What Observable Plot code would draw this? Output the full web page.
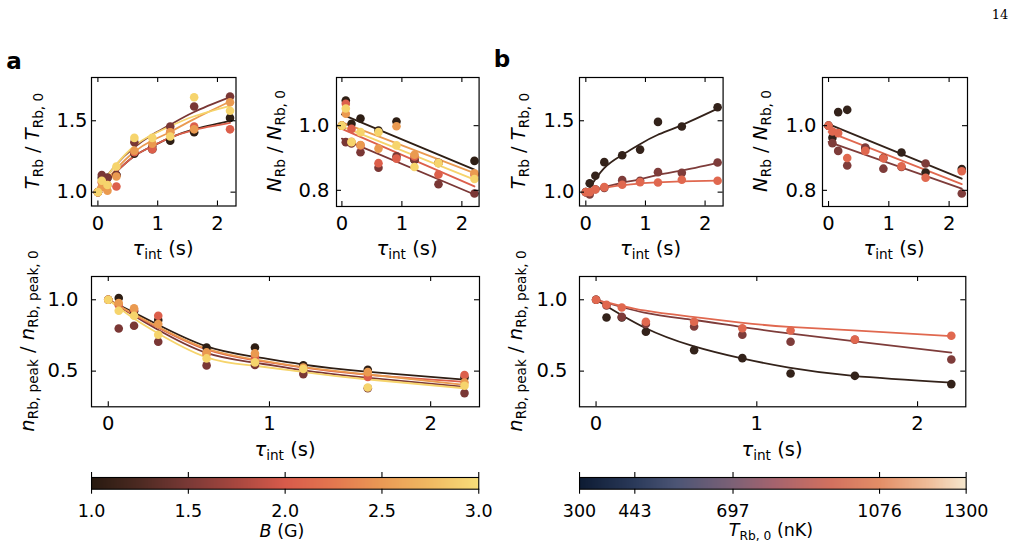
<!DOCTYPE html>
<html><head><meta charset="utf-8">
<script src="https://cdn.jsdelivr.net/npm/d3@7"></script>
<script src="https://cdn.jsdelivr.net/npm/@observablehq/plot@0.6"></script>
<style>
body{margin:0;background:#fff;}
#fig{position:relative;width:1012px;height:556px;font-family:"DejaVu Sans",sans-serif;color:#000;overflow:hidden;background:#fff;}
.pl{position:absolute;}
.pl svg{display:block;overflow:visible;}
.lab{position:absolute;white-space:nowrap;font-size:19.5px;line-height:1;transform:translate(-50%,-50%);}
.lab.rot{transform:translate(-50%,-50%) rotate(-90deg);}
.lab sub{font-size:0.7em;vertical-align:-0.3em;line-height:0;}
.lab i{font-style:oblique;}
</style></head><body><div id="fig"></div><script>
// ---------------- data ----------------
const tau = [0, 0.065, 0.16, 0.31, 0.61, 0.91, 1.21, 1.61, 2.21];
const fieldNames = ["1.0 G", "1.5 G", "2.0 G", "2.5 G", "3.0 G"];
const tempNames = ["443 nK", "697 nK", "1076 nK"];

// panel a: T_Rb / T_Rb,0
const aT_B10 = [1.0, 1.10, 1.10, 1.12, 1.27, 1.30, 1.36, 1.42, 1.52];
const aT_B15 = [1.0, 1.12, 1.10, 1.12, 1.35, 1.32, 1.46, 1.60, 1.67];
const aT_B20 = [1.0, 1.07, 1.05, 1.04, 1.28, 1.30, 1.42, 1.46, 1.44];
const aT_B25 = [1.0, 1.035, 1.01, 1.11, 1.29, 1.34, 1.42, 1.44, 1.63];
const aT_B30 = [1.0, 1.08, 1.05, 1.18, 1.38, 1.38, 1.39, 1.665, 1.57];
const aT_fitTau = [0, 0.3, 0.6, 0.9, 1.2, 1.6, 2.21];
const aT_fit_B10 = [1.02, 1.14, 1.25, 1.32, 1.38, 1.44, 1.50];
const aT_fit_B15 = [1.03, 1.19, 1.31, 1.40, 1.47, 1.56, 1.665];
const aT_fit_B20 = [1.02, 1.14, 1.25, 1.32, 1.38, 1.435, 1.485];
const aT_fit_B25 = [1.02, 1.16, 1.28, 1.36, 1.42, 1.51, 1.635];
const aT_fit_B30 = [1.03, 1.19, 1.32, 1.40, 1.46, 1.53, 1.605];

// panel a: N_Rb / N_Rb,0
const aN_B10 = [1.0, 1.078, 1.006, 1.022, 0.985, 1.013, 0.894, 0.885, 0.891];
const aN_B15 = [1.0, 0.949, 0.945, 0.918, 0.870, 0.905, 0.895, 0.819, 0.790];
const aN_B20 = [1.0, 1.068, 0.990, 0.939, 0.884, 0.898, 0.905, 0.849, 0.848];
const aN_B25 = [1.0, 1.037, 0.950, 0.940, 0.929, 0.998, 0.910, 0.885, 0.853];
const aN_B30 = [1.0, 1.053, 0.949, 0.980, 0.980, 0.939, 0.872, 0.884, 0.835];
const aN_fitTau = [0, 2.21];
const aN_fit_B10 = [1.035, 0.864];
const aN_fit_B15 = [0.960, 0.787];
const aN_fit_B20 = [0.990, 0.812];
const aN_fit_B25 = [1.010, 0.853];
const aN_fit_B30 = [0.998, 0.833];

// panel a: n_peak / n_peak,0
const aP_B10 = [1.0, 1.012, 0.920, 0.858, 0.666, 0.666, 0.540, 0.510, 0.455];
const aP_B15 = [1.0, 0.799, 0.818, 0.706, 0.540, 0.543, 0.479, 0.380, 0.346];
const aP_B20 = [1.0, 0.963, 0.930, 0.888, 0.620, 0.600, 0.520, 0.459, 0.473];
const aP_B25 = [1.0, 0.977, 0.940, 0.830, 0.631, 0.624, 0.525, 0.493, 0.420];
const aP_B30 = [1.0, 0.923, 0.888, 0.755, 0.589, 0.561, 0.515, 0.385, 0.397];
const aP_fitTau = [0, 0.15, 0.3, 0.6, 0.9, 1.2, 1.6, 2.21];
const aP_fit_B10 = [1.0, 0.915, 0.830, 0.677, 0.602, 0.548, 0.497, 0.440];
const aP_fit_B15 = [1.0, 0.895, 0.795, 0.631, 0.561, 0.507, 0.455, 0.390];
const aP_fit_B20 = [1.0, 0.900, 0.810, 0.655, 0.578, 0.527, 0.475, 0.425];
const aP_fit_B25 = [1.0, 0.905, 0.815, 0.661, 0.583, 0.530, 0.478, 0.404];
const aP_fit_B30 = [1.0, 0.875, 0.770, 0.600, 0.538, 0.495, 0.443, 0.380];

// panel b: T_Rb / T_Rb,0
const bT_443 = [1.0, 1.062, 1.115, 1.210, 1.258, 1.298, 1.492, 1.460, 1.595];
const bT_697 = [1.0, 0.984, 1.020, 1.030, 1.084, 1.080, 1.140, 1.135, 1.208];
const bT_1076 = [1.0, 1.000, 1.019, 1.035, 1.052, 1.070, 1.068, 1.087, 1.080];
const bT_fitTau = [0, 0.3, 0.6, 0.9, 1.2, 1.6, 2.21];
const bT_fit_443 = [0.99, 1.165, 1.258, 1.334, 1.40, 1.468, 1.585];
const bT_fit_697 = [1.0, 1.035, 1.065, 1.090, 1.120, 1.150, 1.205];
const bT_fit_1076 = [1.0, 1.030, 1.048, 1.060, 1.068, 1.075, 1.080];

// panel b: N_Rb / N_Rb,0
const bN_443 = [1.0, 0.963, 1.042, 1.049, 0.930, 0.900, 0.917, 0.855, 0.866];
const bN_697 = [1.0, 0.946, 0.922, 0.877, 0.932, 0.867, 0.872, 0.883, 0.790];
const bN_1076 = [1.0, 0.982, 0.977, 0.900, 0.922, 0.899, 0.874, 0.839, 0.859];
const bN_fitTau = [0, 2.21];
const bN_fit_443 = [1.005, 0.836];
const bN_fit_697 = [0.950, 0.805];
const bN_fit_1076 = [0.981, 0.819];

// panel b: n_peak / n_peak,0
const bP_443 = [1.0, 0.876, 0.876, 0.776, 0.647, 0.591, 0.483, 0.467, 0.409];
const bP_697 = [1.0, 0.960, 0.880, 0.830, 0.813, 0.755, 0.706, 0.720, 0.581];
const bP_1076 = [1.0, 0.965, 0.946, 0.846, 0.846, 0.800, 0.785, 0.722, 0.748];
const bP_fitTau = [0, 0.3, 0.6, 0.9, 1.2, 1.6, 2.21];
const bP_fit_443 = [1.0, 0.806, 0.677, 0.591, 0.525, 0.467, 0.420];
const bP_fit_697 = [1.0, 0.910, 0.860, 0.810, 0.765, 0.710, 0.630];
const bP_fit_1076 = [1.0, 0.925, 0.880, 0.840, 0.810, 0.785, 0.745];

// ticks
const tauTicks = [0, 1, 2];
const tTicks = [1.0, 1.5];
const nTicks = [0.8, 1.0];
const pTicks = [0.5, 1.0];
const bTicks = [1.0, 1.5, 2.0, 2.5, 3.0];
const t0Ticks = [300, 443, 697, 1076, 1300];

// colour maps (styling)
const colorsA = ["#2e1e14", "#7a3735", "#dc5f4b", "#ea9a50", "#f6d46c"];
const colorsB = ["#33221a", "#7e3c3a", "#e0684f"];
const cmapA_v = [1.0, 1.25, 1.5, 1.75, 2.0, 2.25, 2.5, 2.75, 3.0];
const cmapA_c = ["#281a10", "#4d2a22", "#7a3936", "#a8473f", "#d85b4b", "#e3774f", "#ea9a55", "#f0ba62", "#f7de7a"];
const cmapB_v = [300, 443, 550, 697, 800, 950, 1076, 1200, 1300];
const cmapB_c = ["#0d1b33", "#2b3a5a", "#4c5575", "#7d6176", "#a4636e", "#d2715f", "#e38e67", "#eebc98", "#f6e8cf"];

// ---------------- helpers ----------------
const fig = document.getElementById("fig");
function rows(xs, names, series) {
  const out = [];
  names.forEach((s, i) => series[i].forEach((v, j) => out.push({t: xs[j], v, s})));
  return out;
}
function place(el, x, y) {
  const d = document.createElement("div");
  d.className = "pl"; d.style.left = x + "px"; d.style.top = y + "px";
  d.appendChild(el); fig.appendChild(d);
}
function label(html, x, y, rot, size, family) {
  const d = document.createElement("div");
  d.className = "lab" + (rot ? " rot" : "");
  d.innerHTML = html; d.style.left = x + "px"; d.style.top = y + "px";
  if (size) d.style.fontSize = size + "px";
  if (family) d.style.fontFamily = family;
  fig.appendChild(d);
}
const FONT = '"DejaVu Sans", sans-serif';
function panel(o) {
  const mL = 70, mR = 12, mT = 12, mB = 45;
  const svg = Plot.plot({
    width: o.w + mL + mR, height: o.h + mT + mB,
    marginLeft: mL, marginRight: mR, marginTop: mT, marginBottom: mB,
    style: {fontFamily: FONT, fontSize: "19.5px", color: "#000", background: "transparent", overflow: "visible"},
    x: {domain: o.xdom}, y: {domain: o.ydom},
    color: {domain: o.names, range: o.colors},
    marks: [
      Plot.line(o.fit, {x: "t", y: "v", z: "s", stroke: "s", strokeWidth: 1.8, curve: o.curve || "natural"}),
      Plot.dot(o.pts, {x: "t", y: "v", fill: "s", r: 4.3}),
      Plot.frame({stroke: "#000", strokeWidth: 1.2}),
      Plot.tickX(tauTicks, {x: d => d, insetTop: o.h - 5, stroke: "#000", strokeWidth: 1.1}),
      Plot.tickX(tauTicks, {x: d => d, insetBottom: o.h - 5, stroke: "#000", strokeWidth: 1.1}),
      Plot.tickY(o.yticks, {y: d => d, insetRight: o.w - 5, stroke: "#000", strokeWidth: 1.1}),
      Plot.tickY(o.yticks, {y: d => d, insetLeft: o.w - 5, stroke: "#000", strokeWidth: 1.1}),
      Plot.axisX(tauTicks, {tickSize: 0, tickPadding: o.xpad, label: null, tickFormat: d => String(d)}),
      Plot.axisY(o.yticks, {tickSize: 0, tickPadding: o.ypad, label: null, tickFormat: d => d.toFixed(1)})
    ]
  });
  place(svg, o.left - mL, o.top - mT);
}
function colorbar(o) {
  const mL = 40, mR = 40, mT = 10, mB = 40;
  const marks = [];
  if (Plot.raster) {
    marks.push(Plot.raster({x1: o.domain[0], x2: o.domain[1], y1: 0, y2: 1, width: 500, height: 1,
      fill: (x, y) => x, imageRendering: "auto"}));
  }
  marks.push(
    Plot.frame({stroke: "#000", strokeWidth: 1.1}),
    Plot.tickX(o.ticks, {x: d => d, insetTop: -5, insetBottom: o.h, stroke: "#000", strokeWidth: 1.1}),
    Plot.tickX(o.ticks, {x: d => d, insetTop: o.h, insetBottom: -5, stroke: "#000", strokeWidth: 1.1}),
    Plot.axisX(o.ticks, {tickSize: 0, tickPadding: o.pad, label: null, tickFormat: o.fmt})
  );
  const svg = Plot.plot({
    width: o.w + mL + mR, height: o.h + mT + mB,
    marginLeft: mL, marginRight: mR, marginTop: mT, marginBottom: mB,
    style: {fontFamily: FONT, fontSize: "17.5px", color: "#000", background: "transparent", overflow: "visible"},
    x: {domain: o.domain}, y: {domain: [0, 1], axis: null},
    color: {type: "linear", domain: o.stopV, range: o.stopC, interpolate: "rgb"},
    marks
  });
  place(svg, o.left - mL, o.top - mT);
}

// ---------------- panels ----------------
const topX = [-0.107, 2.31];
panel({left: 91, top: 77, w: 144.5, h: 128.5, xdom: topX, ydom: [0.903, 1.803], yticks: tTicks, xpad: 10, ypad: 4,
  names: fieldNames, colors: colorsA,
  pts: rows(tau, fieldNames, [aT_B10, aT_B15, aT_B20, aT_B25, aT_B30]),
  fit: rows(aT_fitTau, fieldNames, [aT_fit_B10, aT_fit_B15, aT_fit_B20, aT_fit_B25, aT_fit_B30])});
panel({left: 335.7, top: 77, w: 142.6, h: 129, xdom: [-0.09, 2.287], ydom: [0.75, 1.149], yticks: nTicks, xpad: 10, ypad: 7,
  names: fieldNames, colors: colorsA, curve: "linear",
  pts: rows(tau, fieldNames, [aN_B10, aN_B15, aN_B20, aN_B25, aN_B30]),
  fit: rows(aN_fitTau, fieldNames, [aN_fit_B10, aN_fit_B15, aN_fit_B20, aN_fit_B25, aN_fit_B30])});
panel({left: 578.7, top: 77, w: 143.6, h: 128.5, xdom: [-0.106, 2.302], ydom: [0.903, 1.803], yticks: tTicks, xpad: 10, ypad: 5,
  names: tempNames, colors: colorsB,
  pts: rows(tau, tempNames, [bT_443, bT_697, bT_1076]),
  fit: rows(bT_fitTau, tempNames, [bT_fit_443, bT_fit_697, bT_fit_1076])});
panel({left: 821.7, top: 77, w: 145, h: 129, xdom: [-0.10, 2.305], ydom: [0.75, 1.149], yticks: nTicks, xpad: 10, ypad: 6,
  names: tempNames, colors: colorsB, curve: "linear",
  pts: rows(tau, tempNames, [bN_443, bN_697, bN_1076]),
  fit: rows(bN_fitTau, tempNames, [bN_fit_443, bN_fit_697, bN_fit_1076])});
panel({left: 91, top: 275.7, w: 388, h: 130.3, xdom: [-0.104, 2.303], ydom: [0.25, 1.163], yticks: pTicks, xpad: 9, ypad: 13,
  names: fieldNames, colors: colorsA,
  pts: rows(tau, fieldNames, [aP_B10, aP_B15, aP_B20, aP_B25, aP_B30]),
  fit: rows(aP_fitTau, fieldNames, [aP_fit_B10, aP_fit_B15, aP_fit_B20, aP_fit_B25, aP_fit_B30])});
panel({left: 578.7, top: 275.7, w: 386.3, h: 130.3, xdom: [-0.103, 2.30], ydom: [0.25, 1.163], yticks: pTicks, xpad: 9, ypad: 12,
  names: tempNames, colors: colorsB,
  pts: rows(tau, tempNames, [bP_443, bP_697, bP_1076]),
  fit: rows(bP_fitTau, tempNames, [bP_fit_443, bP_fit_697, bP_fit_1076])});

colorbar({left: 91, top: 477.3, w: 387.3, h: 11.7, domain: [1, 3], ticks: bTicks, pad: 15,
  stopV: cmapA_v, stopC: cmapA_c, fmt: d => d.toFixed(1)});
colorbar({left: 579, top: 477.3, w: 386.7, h: 11.7, domain: [300, 1300], ticks: t0Ticks, pad: 15,
  stopV: cmapB_v, stopC: cmapB_c, fmt: d => String(d)});

// ---------------- text ----------------
const TAU = '<i>τ</i><sub>int</sub> (s)';
label(TAU, 163, 249); label(TAU, 407, 249); label(TAU, 650.5, 249); label(TAU, 894, 249);
label(TAU, 285, 450); label(TAU, 772, 450);
label('<i>T</i><sub>Rb</sub> / <i>T</i><sub>Rb, 0</sub>', 33, 141, true);
label('<i>N</i><sub>Rb</sub> / <i>N</i><sub>Rb, 0</sub>', 275, 141, true);
label('<i>T</i><sub>Rb</sub> / <i>T</i><sub>Rb, 0</sub>', 519, 141, true);
label('<i>N</i><sub>Rb</sub> / <i>N</i><sub>Rb, 0</sub>', 761, 141, true);
label('<i>n</i><sub>Rb, peak</sub> / <i>n</i><sub>Rb, peak, 0</sub>', 28, 341, true);
label('<i>n</i><sub>Rb, peak</sub> / <i>n</i><sub>Rb, peak, 0</sub>', 516, 341, true);
label('<i>B</i> (G)', 282, 532, false, 17.5);
label('<i>T</i><sub>Rb, 0</sub> (nK)', 771, 531, false, 17.5);
label('<b>a</b>', 14, 61, false, 23);
label('<b>b</b>', 502, 59, false, 23);
label('14', 1000, 14, false, 13, '"DejaVu Serif", serif');
</script></body></html>
